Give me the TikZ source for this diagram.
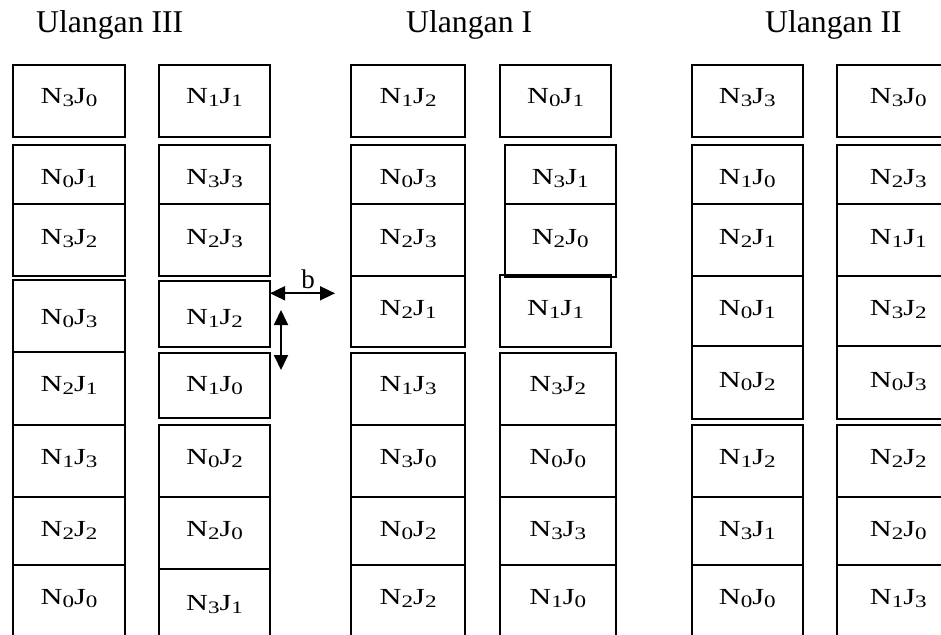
\documentclass[tikz,border=0pt]{standalone}
\usepackage{fontspec}
\setmainfont{Liberation Serif}
\usetikzlibrary{arrows.meta}
\newcommand\sbs[1]{\raisebox{-3pt}{\fontsize{17.5}{17.5}\selectfont #1}}
\newcommand\NJ[2]{\scalebox{1.32}[1]{N\sbs{#1}J\sbs{#2}}}
\newcommand\cell[7]{%
  \node[cellbox, minimum width=#4pt, minimum height=#5pt] (#1) at (#2,#3) {};
  \node[celltext, anchor=base] (#1t) at (#2,#7) {#6};}
\tikzset{
  cellbox/.style={draw, line width=1.9pt, inner sep=0pt, outer sep=0pt},
  celltext/.style={font=\fontsize{23}{25}\selectfont, inner sep=0pt},
  title/.style={font=\fontsize{31.7}{34}\selectfont, inner sep=0pt, anchor=base west},
  dbl/.style={line width=1.8pt, {Triangle[length=15pt,width=14pt]}-{Triangle[length=15pt,width=14pt]}},
  blab/.style={font=\fontsize{27}{29}\selectfont, inner sep=0pt}
}
\begin{document}
\begin{tikzpicture}[x=1pt,y=-1pt]
\useasboundingbox (0,0) rectangle (941,634);
\clip (0,0) rectangle (941,634);
% titles
\node[title] (t3) at (36,32.7) {Ulangan III};
\node[title] (t1) at (406,32.7) {Ulangan I};
\node[title] (t2) at (765,32.7) {Ulangan II};
% column 1
\cell{a1}{69}{101}{112}{72.6}{\NJ30}{103}
\cell{a2}{69}{174.65}{112}{59.3}{\NJ01}{184}
\cell{a3}{69}{240}{112}{71.4}{\NJ32}{244}
\cell{a4}{69}{316.15}{112}{72.3}{\NJ03}{324}
\cell{a5}{69}{388.65}{112}{72.7}{\NJ21}{391}
\cell{a6}{69}{461.15}{112}{72.3}{\NJ13}{464}
\cell{a7}{69}{531.15}{112}{67.7}{\NJ22}{536}
\cell{a8}{69}{607.5}{112}{85}{\NJ00}{604}
% column 2
\cell{b1}{214.5}{101}{111}{72.6}{\NJ11}{103}
\cell{b2}{214.5}{174.65}{111}{59.3}{\NJ33}{184}
\cell{b3}{214.5}{240}{111}{71.4}{\NJ23}{244}
\cell{b4}{214.5}{314}{111}{65.4}{\NJ12}{324}
\cell{b5}{214.5}{385.5}{111}{65.6}{\NJ10}{391}
\cell{b6}{214.5}{461}{111}{71.4}{\NJ02}{464}
\cell{b7}{214.5}{533}{111}{72.6}{\NJ20}{536}
\cell{b8}{214.5}{609.65}{111}{80.7}{\NJ31}{610}
% column 3
\cell{c1}{408.15}{101}{114.3}{72.6}{\NJ12}{103}
\cell{c2}{408.15}{174.65}{114.3}{59.3}{\NJ03}{184}
\cell{c3}{408.15}{240}{114.3}{71.4}{\NJ23}{244}
\cell{c4}{408.15}{311.2}{114.3}{71}{\NJ21}{315.5}
\cell{c5}{408.15}{388.85}{114.3}{72.3}{\NJ13}{391}
\cell{c6}{408.15}{460.85}{114.3}{71.7}{\NJ30}{464}
\cell{c7}{408.15}{530.85}{114.3}{68.3}{\NJ02}{536}
\cell{c8}{408.15}{607.5}{114.3}{85}{\NJ22}{604}
% column 4
\cell{d1}{555.65}{101}{111.3}{72.6}{\NJ01}{103}
\cell{d2}{560.2}{174.65}{111}{59.3}{\NJ31}{184}
\cell{d3}{560.2}{240.5}{111}{72.4}{\NJ20}{244}
\cell{d4}{555.65}{310.85}{111.3}{71.7}{\NJ11}{315.5}
\cell{d5}{557.85}{388.85}{115.7}{72.3}{\NJ32}{391}
\cell{d6}{557.85}{460.85}{115.7}{71.7}{\NJ00}{464}
\cell{d7}{557.85}{530.85}{115.7}{68.3}{\NJ33}{536}
\cell{d8}{557.85}{607.5}{115.7}{85}{\NJ10}{604}
% column 5
\cell{e1}{747.35}{101}{110.7}{72.6}{\NJ33}{103}
\cell{e2}{747.35}{174.65}{110.7}{59.3}{\NJ10}{184}
\cell{e3}{747.35}{240}{110.7}{71.4}{\NJ21}{244}
\cell{e4}{747.35}{310.85}{110.7}{70.3}{\NJ01}{315.5}
\cell{e5}{747.35}{382.35}{110.7}{72.7}{\NJ02}{387}
\cell{e6}{747.35}{461}{110.7}{71.4}{\NJ12}{464}
\cell{e7}{747.35}{530.85}{110.7}{68.3}{\NJ31}{536}
\cell{e8}{747.35}{607.5}{110.7}{85}{\NJ00}{604}
% column 6
\cell{f1}{898.35}{101}{123.3}{72.6}{\NJ30}{103}
\cell{f2}{898.35}{174.65}{123.3}{59.3}{\NJ23}{184}
\cell{f3}{898.35}{240}{123.3}{71.4}{\NJ11}{244}
\cell{f4}{898.35}{310.85}{123.3}{70.3}{\NJ32}{315.5}
\cell{f5}{898.35}{382.35}{123.3}{72.7}{\NJ03}{387}
\cell{f6}{898.35}{461}{123.3}{71.4}{\NJ22}{464}
\cell{f7}{898.35}{530.85}{123.3}{68.3}{\NJ20}{536}
\cell{f8}{898.35}{607.5}{123.3}{85}{\NJ13}{604}
% dimension arrows
\coordinate (hR) at (335,293.3);
\draw[dbl] (b4.east |- hR) -- (hR);
\node[blab, anchor=base] (bl) at (308,288) {b};
\coordinate (vT) at (281,310);
\coordinate (vB) at (281,370);
\draw[dbl] (vT) -- (vB);
\end{tikzpicture}
\end{document}
